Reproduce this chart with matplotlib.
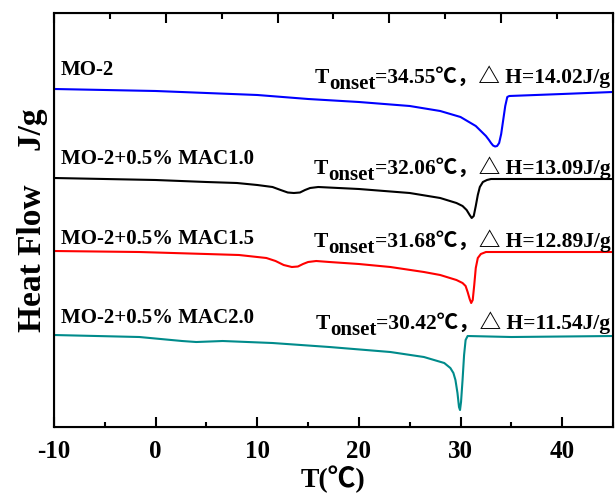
import matplotlib
matplotlib.use("Agg")
import matplotlib.pyplot as plt
from matplotlib.ticker import MultipleLocator, NullFormatter

plt.rcParams['font.family'] = ['Liberation Serif', 'Noto Sans CJK SC']
plt.rcParams['font.weight'] = 'bold'
plt.rcParams['axes.labelweight'] = 'bold'
plt.rcParams['axes.unicode_minus'] = False

# DSC curves (T in degC, heat flow in arbitrary units)
t_mo2 = [-10, -5, 0, 5, 10, 15, 20, 25, 28, 30, 31.5, 32.0, 32.5, 32.8, 33.0, 33.2,
         33.4, 33.6, 33.8, 34.0, 34.2, 34.4, 34.6, 34.8, 40, 45]
hf_mo2 = [33.8, 33.7, 33.6, 33.4, 33.2, 32.8, 32.5, 32.1, 31.6, 31.0, 30.1, 29.6,
          29.1, 28.7, 28.4, 28.15, 28.05, 28.1, 28.4, 29.3, 30.7, 32.1, 33.0, 33.1,
          33.3, 33.5]

t_mac10 = [-10, -5, 0, 5, 8, 10, 11.5, 12.3, 13.0, 13.6, 14.2, 14.7, 15.2, 16.0, 20,
           25, 28, 29.6, 30.2, 30.6, 30.9, 31.1, 31.3, 31.5, 31.7, 31.9, 32.2, 32.6,
           33, 45]
hf_mac10 = [24.9, 24.8, 24.7, 24.5, 24.4, 24.2, 24.0, 23.7, 23.45, 23.4, 23.45, 23.7,
            23.9, 24.0, 23.8, 23.4, 22.9, 22.4, 22.1, 21.7, 21.2, 20.9, 21.1, 22.1,
            23.2, 24.0, 24.5, 24.7, 24.8, 24.8]

t_mac15 = [-10, -1.6, 5, 8.2, 10.9, 11.8, 12.6, 13.4, 14.0, 14.5, 15.0, 15.8, 17.1,
           20, 23.1, 26.4, 28, 29.6, 30.2, 30.5, 30.7, 30.9, 31.05, 31.2, 31.35, 31.5,
           31.7, 32.0, 32.5, 45]
hf_mac15 = [17.6, 17.5, 17.3, 17.2, 16.9, 16.6, 16.2, 16.0, 16.05, 16.3, 16.5, 16.6,
            16.5, 16.3, 16.0, 15.5, 15.2, 14.7, 14.4, 14.1, 13.5, 12.8, 12.4, 12.7,
            14.2, 15.9, 16.9, 17.3, 17.5, 17.5]

t_mac20 = [-10, -1.6, 2.6, 4.0, 6.6, 11.5, 17.1, 23.1, 26.4, 28.4, 29.0, 29.3, 29.5,
           29.7, 29.85, 29.95, 30.05, 30.2, 30.35, 30.5, 30.7, 35, 45]
hf_mac20 = [9.2, 9.0, 8.6, 8.5, 8.6, 8.4, 8.0, 7.5, 7.0, 6.4, 5.9, 5.4, 4.7, 3.4, 2.0,
            1.7, 2.5, 4.7, 7.2, 8.7, 9.1, 9.0, 9.1]

names = ['MO-2', 'MO-2+0.5% MAC1.0', 'MO-2+0.5% MAC1.5', 'MO-2+0.5% MAC2.0']
t_onset = ['34.55', '32.06', '31.68', '30.42']
delta_h = ['14.02', '13.09', '12.89', '11.54']
colors = ['#0000ff', '#000000', '#ff0000', '#008b8b']

# text baselines (same units as heat flow)
name_y = [35.2, 26.3, 18.3, 10.4]
info_y = [34.4, 25.3, 18.0, 9.8]

fig = plt.figure(figsize=(6.15, 4.94), dpi=100)
ax = fig.add_axes([0.0878, 0.1356, 0.9089, 0.8381])

curves = [(t_mo2, hf_mo2), (t_mac10, hf_mac10), (t_mac15, hf_mac15), (t_mac20, hf_mac20)]
for (t, hf), c in zip(curves, colors):
    ax.plot(t, hf, color=c, lw=1.5)

ax.set_xlim(-10, 45)
ax.set_ylim(0, 41.4)
ax.set_yticks([])
ax.xaxis.set_major_locator(MultipleLocator(10))
ax.xaxis.set_minor_locator(MultipleLocator(5))
ax.tick_params(axis='x', which='major', direction='in', length=7, width=1.5,
               labelsize=18, pad=9)
ax.tick_params(axis='x', which='minor', direction='in', length=3.5, width=1.5)
for s in ax.spines.values():
    s.set_linewidth(1.5)

# top axis ticks
top = ax.twiny()
top.set_xlim(0, 10)
top.xaxis.set_major_locator(MultipleLocator(2))
top.xaxis.set_minor_locator(MultipleLocator(1))
top.xaxis.set_major_formatter(NullFormatter())
top.tick_params(axis='x', which='major', direction='in', length=7.5, width=1.5)
top.tick_params(axis='x', which='minor', direction='in', length=4, width=1.5)

ax.set_xlabel('T(℃)', fontsize=20, labelpad=2)
ax.set_ylabel('Heat Flow    J/g', fontsize=24, labelpad=4)

for i in range(4):
    ax.text(-9.3, name_y[i], names[i], fontsize=15, ha='left', va='baseline')
    main = ax.text(44.75, info_y[i], '=' + t_onset[i] + '℃，△ H=' + delta_h[i] + 'J/g',
                   fontsize=15.5, ha='right', va='baseline')
    sub = ax.annotate('onset', xy=(0, 0), xycoords=main, xytext=(0, -4.5),
                      textcoords='offset points', ha='right', va='bottom', fontsize=15)
    ax.annotate('T', xy=(0, 0), xycoords=sub, xytext=(0, 4.5),
                textcoords='offset points', ha='right', va='bottom', fontsize=15.5)

fig.savefig('out.png', dpi=100)
